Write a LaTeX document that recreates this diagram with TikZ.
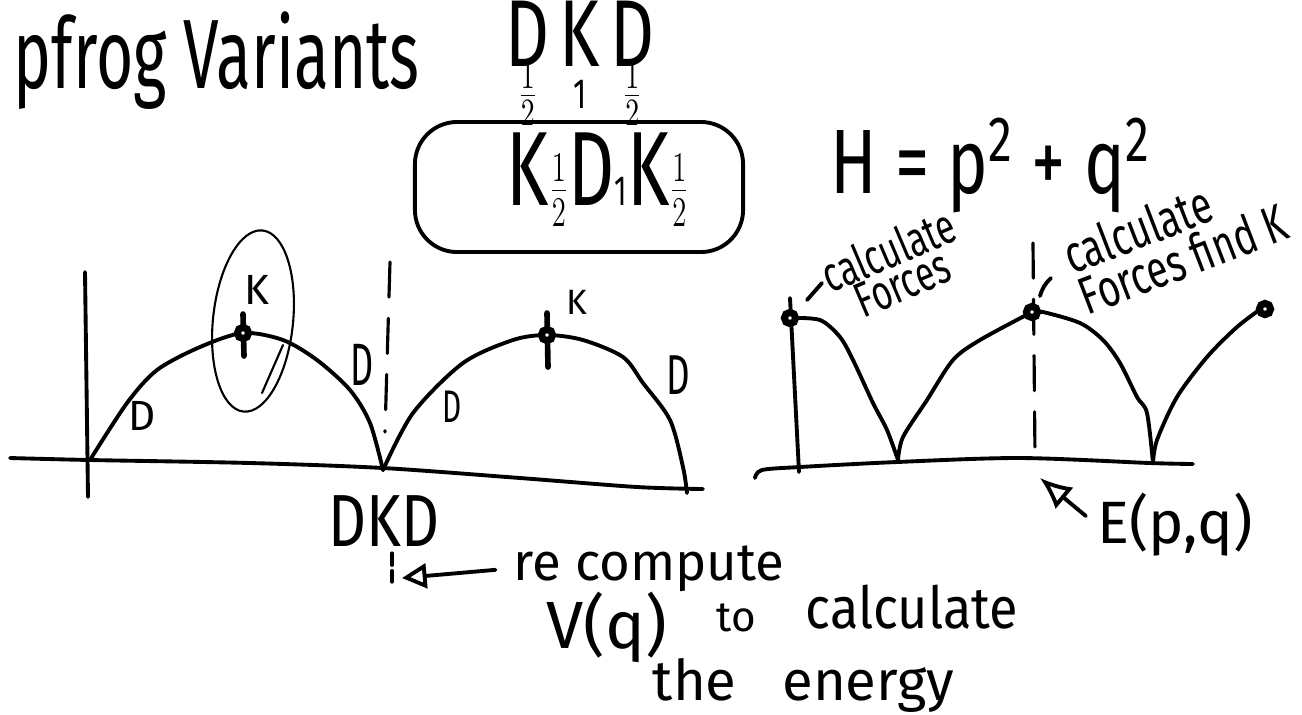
\documentclass[tikz,border=0pt]{standalone}
\usepackage{fontspec}
\setmainfont{Fira Sans}
\usetikzlibrary{arrows.meta}
\newcommand\hand[1]{\fontsize{#1}{#1}\selectfont}
\newcommand\squish[2][.7]{\scalebox{#1}[1]{#2}}
\newcommand\half[1][18]{{\hand{#1}$\frac12$}}

\begin{document}
\begin{tikzpicture}[x=0.01cm, y=-0.01cm,
pen/.style={line width=1.1pt, line cap=round, line join=round},
thinpen/.style={line width=0.6pt, line cap=round},
guide/.style={line width=0.9pt, line cap=round, dash pattern=on 10pt off 6pt},
dot/.style={circle, draw, line width=2pt, fill=white, inner sep=0pt, minimum size=3.2pt},
scrawl/.style={inner sep=0pt},
arrow/.style={pen, -{Triangle[open, length=7pt, width=7pt]}}]
\useasboundingbox (0,0) rectangle (1302,714);

% heading, scheme and Hamiltonian
\node[scrawl, anchor=base west, font=\hand{28}] (title) at (13,88) {\squish[.65]{pfrog Variants}};
\node[scrawl, anchor=base, font=\hand{27}] (dkd) at (580,66) {\squish[.72]{\begin{tabular}[t]{@{}c@{\hspace{4pt}}c@{\hspace{4pt}}c@{}}D&K&D\\[-15pt]\half[15]&{\hand{12}1}&\half[15]\end{tabular}}};
\node[draw, pen, rounded corners=12pt, minimum width=3.28cm, minimum height=1.3cm] (kdkbox) at (579,187) {};
\node[scrawl, font=\hand{30}] (kdk) at (598,180) {\squish[.68]{K\half D{\hand{12}1}K\half}};
\node[scrawl, anchor=base west, font=\hand{26}] (ham) at (830,193) {\squish[.75]{H = p\textsuperscript{2} + q\textsuperscript{2}}};

% left plot: DKD arches
\draw[pen] plot[smooth] coordinates {(10,458) (90,460) (250,463) (383,468) (520,478) (637,487) (703,489)};
\draw[pen] (85,272) -- (88,497);
\draw[pen] plot[smooth] coordinates {(90,460) (127,403) (157,370) (200,347) (243,333) (283,340) (317,360) (350,390) (370,423) (383,470)};
\draw[pen] plot[smooth] coordinates {(383,470) (413,413) (463,363) (513,340) (547,335) (583,340) (623,357) (643,383) (670,420) (683,467) (687,493)};
\draw[guide] (390,262) -- (385,432);
\draw[thinpen, rotate around={-6:(253,321)}] (253,321) ellipse [x radius=0.4cm, y radius=0.91cm];
\draw[thinpen] (262,393) -- (283,345);
\draw[pen, line width=1.6pt] (243,314) -- (244,356);
\draw[pen, line width=1.6pt] (547,313) -- (548,367);
\node[dot] (k1) at (243,333) {};
\node[dot] (k2) at (547,335) {};
\node[scrawl, font=\hand{12}] (kin) at (257,290) {K};
\node[scrawl, font=\hand{10}] (kout) at (577,302) {K};
\node[scrawl, font=\hand{12}] (d1) at (142,416) {D};
\node[scrawl, font=\hand{17}] (d2) at (362,365) {\squish[.6]{D}};
\node[scrawl, font=\hand{13}] (d3) at (452,407) {\squish[.65]{D}};
\node[scrawl, font=\hand{16}] (d4) at (678,375) {\squish[.65]{D}};

% below the left plot
\node[scrawl, font=\hand{21}] (dkdb) at (384,521) {\squish[.8]{DKD}};
\draw[guide, dash pattern=on 3.5pt off 1.5pt] (392,553) -- (392,582);
\coordinate (vtip) at (402,578);
\node[scrawl, anchor=base west, font=\hand{15}] (recomp) at (513,580) {re compute};
\draw[arrow, shorten <=5pt] (recomp.west) -- (vtip);
\node[scrawl, font=\hand{19}] (vq) at (607,627) {V(q)};
\node[scrawl, font=\hand{12}] (to) at (736,618) {to};
\node[scrawl, font=\hand{16.5}] (calcE) at (912,607) {\squish[.9]{calculate}};
\node[scrawl, anchor=base west, font=\hand{16}] (energy) at (652,700) {the\hspace{13pt}energy};

% right plot: energy
\draw[pen] plot[smooth] coordinates {(755,478) (762,470) (800,467) (897,462) (1020,458) (1150,463) (1193,464)};
\draw[pen] (790,298) -- (799,472);
\draw[pen] plot[smooth] coordinates {(790,318) (820,320) (840,337) (853,360) (873,403) (887,430) (898,460)};
\draw[pen] plot[smooth] coordinates {(898,460) (903,437) (927,400) (953,360) (980,340) (1032,312)};
\draw[pen] plot[smooth] coordinates {(1032,312) (1043,312) (1080,323) (1103,340) (1120,363) (1137,397) (1147,413) (1153,463)};
\draw[pen] plot[smooth] coordinates {(1153,463) (1157,440) (1177,397) (1207,357) (1237,327) (1262,308)};
\draw[guide] (1033,243) -- (1035,455);
\node[dot] (f1) at (790,318) {};
\node[dot] (f2) at (1032,312) {};
\node[dot] (f3) at (1265,309) {};
\node[scrawl, font=\fontsize{14}{10}\selectfont, align=center, rotate=23] (calc1) at (895,266) {\squish{calculate}\\ \squish{Forces}};
\node[scrawl, font=\fontsize{15}{10}\selectfont, align=left, rotate=21] (calc2) at (1175,238) {\squish[.72]{calculate}\\ \squish[.72]{Forces find K}};
\coordinate (l1a) at (807,300);
\coordinate (l1b) at (822,283);
\coordinate (l2a) at (1040,296);
\coordinate (l2b) at (1051,278);
\draw[pen] (l1a) -- (l1b);
\draw[pen] (l2a) to[bend left=15] (l2b);
\node[scrawl, font=\hand{17}] (epq) at (1175,525) {E(p,q)};
\coordinate (etip) at (1040,478);
\draw[pen, shorten <=4pt, -{Latex[open, length=9pt, width=8pt]}] (epq.west) -- (etip);
\end{tikzpicture}
\end{document}
